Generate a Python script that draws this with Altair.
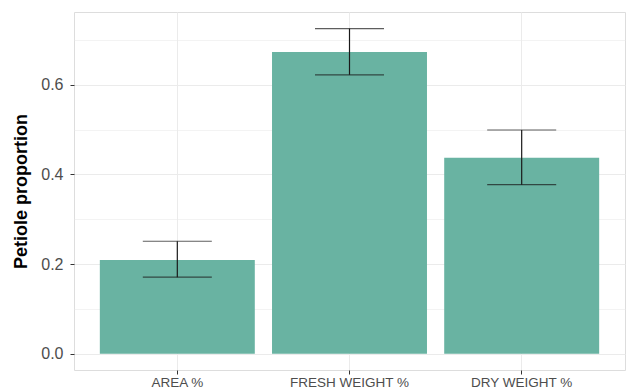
import altair as alt
import pandas as pd

categories = ["AREA %", "FRESH WEIGHT %", "DRY WEIGHT %"]
means = [0.209, 0.673, 0.437]
lower = [0.171, 0.622, 0.377]
upper = [0.251, 0.725, 0.499]

df = pd.DataFrame({"cat": categories, "mean": means, "lo": lower, "hi": upper})

FONT = "Liberation Sans"
y_ticks = [0.0, 0.1, 0.2, 0.3, 0.4, 0.5, 0.6, 0.7]
is_minor = "round(datum.value*10) % 2 == 1"

xenc = alt.X(
    "cat:N",
    sort=categories,
    title=None,
    scale=alt.Scale(paddingInner=0.1, paddingOuter=0.15),
    axis=alt.Axis(
        grid=True, gridColor="#ebebeb", gridWidth=1,
        labelAngle=0, labelFont=FONT, labelFontSize=13.5, labelColor="#4d4d4d",
        labelPadding=1, tickColor="#333333", tickSize=4, domain=False,
    ),
)

yscale = alt.Scale(domain=[-0.036, 0.762], nice=False, zero=False)

bars = alt.Chart(df).mark_bar(color="#69b3a2").encode(
    x=xenc,
    y=alt.Y(
        "mean:Q",
        scale=yscale,
        title="Petiole proportion",
        axis=alt.Axis(
            values=y_ticks,
            labelExpr="round(datum.value*10) % 2 == 1 ? '' : format(datum.value, '.1f')",
            grid=True,
            gridColor="#ebebeb",
            gridWidth={"condition": {"test": is_minor, "value": 0.6}, "value": 1.1},
            tickColor={"condition": {"test": is_minor, "value": "transparent"}, "value": "#333333"},
            tickSize=4,
            domain=False,
            labelFont=FONT, labelFontSize=16, labelColor="#4d4d4d", labelPadding=7,
            titleFont=FONT, titleFontSize=18, titleFontWeight="bold", titleColor="#000000",
            titlePadding=10,
        ),
    ),
    y2=alt.datum(0),
)

rules = alt.Chart(df).mark_rule(color="#1a1a1a", strokeWidth=1.2).encode(
    x=alt.X("cat:N", sort=categories),
    y=alt.Y("lo:Q", scale=yscale),
    y2="hi:Q",
)

caps_hi = alt.Chart(df).mark_tick(color="#1a1a1a", thickness=1.2, size=69, orient="horizontal").encode(
    x=alt.X("cat:N", sort=categories),
    y=alt.Y("hi:Q", scale=yscale),
)
caps_lo = alt.Chart(df).mark_tick(color="#1a1a1a", thickness=1.2, size=69, orient="horizontal").encode(
    x=alt.X("cat:N", sort=categories),
    y=alt.Y("lo:Q", scale=yscale),
)

chart = alt.layer(bars, rules, caps_hi, caps_lo).properties(
    width=551,
    height=358,
    autosize=alt.AutoSizeParams(type="none"),
    padding={"left": 66, "top": 4, "right": 1, "bottom": 18},
).configure_view(stroke="#9a9a9a", strokeWidth=1.3).configure(background="white")

chart.save("out.html", embed_options={"renderer": "svg", "actions": False})
